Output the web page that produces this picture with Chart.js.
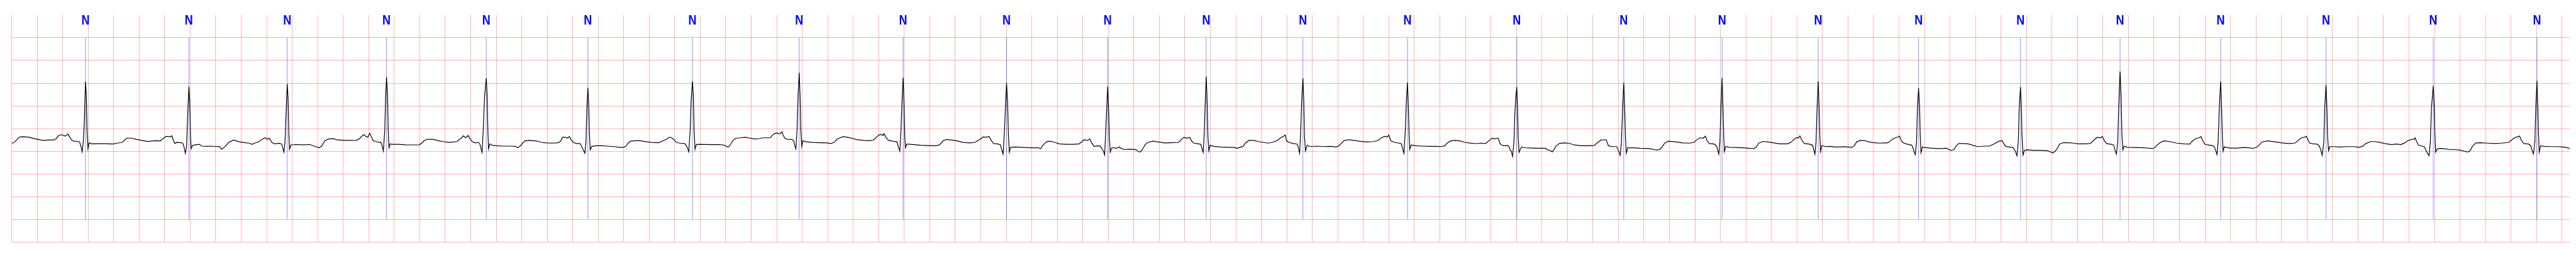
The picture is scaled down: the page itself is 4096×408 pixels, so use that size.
<!DOCTYPE html>
<html>
<head>
<meta charset="utf-8">
<script src="https://cdn.jsdelivr.net/npm/chart.js@4"></script>
<style>
  html, body { margin: 0; padding: 0; background: #fff; }
  #wrap { width: 4096px; height: 408px; position: relative; }
</style>
</head>
<body>
<div id="wrap"><canvas id="ecg"></canvas></div>
<script>
// ECG trace, [time (s), amplitude (mV)]
const ecg_samples = [
  [0.000,-0.323],[0.019,-0.313],[0.038,-0.255],[0.056,-0.197],[0.078,-0.182],[0.111,-0.187],[0.139,-0.192],[0.166,-0.217],[0.194,-0.232],[0.231,-0.255],
  [0.258,-0.263],[0.295,-0.253],[0.332,-0.253],[0.350,-0.222],[0.365,-0.167],[0.384,-0.136],[0.402,-0.146],[0.420,-0.167],[0.430,-0.154],[0.442,-0.121],
  [0.453,-0.179],[0.470,-0.255],[0.488,-0.280],[0.525,-0.285],[0.534,-0.306],[0.545,-0.407],[0.553,-0.515],[0.562,-0.293],[0.571,0.212],[0.579,1.033],
  [0.586,0.717],[0.591,-0.040],[0.599,-0.444],[0.608,-0.313],[0.626,-0.338],[0.682,-0.336],[0.737,-0.336],[0.792,-0.343],[0.829,-0.323],[0.866,-0.306],
  [0.884,-0.263],[0.902,-0.212],[0.939,-0.212],[0.976,-0.237],[1.013,-0.258],[1.068,-0.285],[1.123,-0.268],[1.169,-0.273],[1.178,-0.242],[1.197,-0.205],
  [1.212,-0.172],[1.243,-0.182],[1.257,-0.162],[1.267,-0.250],[1.280,-0.331],[1.293,-0.308],[1.335,-0.313],[1.344,-0.338],[1.353,-0.419],[1.362,-0.545],
  [1.372,-0.394],[1.381,0.338],[1.390,0.924],[1.397,0.591],[1.403,-0.167],[1.408,-0.444],[1.418,-0.374],[1.436,-0.364],[1.473,-0.348],[1.491,-0.389],
  [1.528,-0.394],[1.565,-0.389],[1.602,-0.399],[1.629,-0.394],[1.648,-0.457],[1.675,-0.394],[1.703,-0.306],[1.740,-0.255],[1.786,-0.293],[1.822,-0.311],
  [1.859,-0.323],[1.887,-0.348],[1.905,-0.323],[1.942,-0.288],[1.960,-0.242],[1.988,-0.205],[2.006,-0.237],[2.021,-0.212],[2.040,-0.306],[2.062,-0.338],
  [2.098,-0.326],[2.117,-0.343],[2.126,-0.419],[2.135,-0.520],[2.144,-0.293],[2.154,0.465],[2.161,0.982],[2.168,0.667],[2.174,-0.141],[2.179,-0.457],
  [2.190,-0.361],[2.227,-0.354],[2.282,-0.359],[2.338,-0.354],[2.374,-0.389],[2.411,-0.424],[2.430,-0.389],[2.457,-0.268],[2.485,-0.232],[2.522,-0.225],
  [2.558,-0.253],[2.595,-0.258],[2.650,-0.263],[2.706,-0.258],[2.733,-0.212],[2.752,-0.154],[2.764,-0.136],[2.779,-0.179],
  [2.793,-0.192],[2.808,-0.106],[2.821,-0.179],[2.834,-0.268],[2.857,-0.288],[2.885,-0.306],[2.894,-0.298],[2.904,-0.369],[2.915,-0.495],[2.926,-0.040],
  [2.933,0.717],[2.940,1.134],[2.948,0.717],[2.953,-0.040],[2.959,-0.424],[2.968,-0.338],[2.986,-0.348],[3.032,-0.348],[3.087,-0.359],[3.143,-0.361],
  [3.198,-0.359],[3.216,-0.323],[3.235,-0.268],[3.262,-0.237],[3.308,-0.242],[3.345,-0.268],[3.382,-0.288],[3.428,-0.306],[3.465,-0.298],[3.492,-0.288],
  [3.511,-0.242],[3.529,-0.205],[3.542,-0.162],[3.562,-0.205],[3.580,-0.154],[3.593,-0.217],[3.612,-0.293],[3.639,-0.318],[3.661,-0.306],[3.672,-0.343],
  [3.682,-0.457],[3.689,-0.525],[3.698,-0.040],[3.709,0.717],[3.722,1.109],[3.729,0.717],[3.735,-0.091],[3.740,-0.449],[3.750,-0.338],[3.768,-0.369],
  [3.805,-0.381],[3.860,-0.389],[3.915,-0.389],[3.952,-0.394],[3.967,-0.424],[3.989,-0.386],[4.007,-0.323],[4.026,-0.273],[4.062,-0.263],[4.118,-0.275],
  [4.154,-0.306],[4.191,-0.318],[4.246,-0.323],[4.283,-0.313],[4.302,-0.293],[4.320,-0.197],[4.342,-0.192],[4.357,-0.212],[4.375,-0.179],[4.386,-0.242],
  [4.403,-0.306],[4.430,-0.331],[4.458,-0.331],[4.471,-0.407],[4.482,-0.470],[4.495,-0.545],[4.504,-0.293],[4.511,0.465],[4.519,0.899],[4.526,0.465],
  [4.532,-0.167],[4.537,-0.470],[4.550,-0.394],[4.587,-0.381],[4.633,-0.381],[4.670,-0.389],[4.725,-0.399],[4.762,-0.414],[4.798,-0.414],[4.817,-0.394],
  [4.835,-0.318],[4.853,-0.280],[4.890,-0.268],[4.927,-0.268],[4.982,-0.293],[5.019,-0.306],[5.074,-0.313],[5.111,-0.268],[5.139,-0.230],[5.157,-0.192],
  [5.175,-0.205],[5.194,-0.242],[5.212,-0.306],[5.240,-0.323],[5.277,-0.331],[5.295,-0.394],[5.310,-0.515],[5.321,-0.040],[5.328,0.591],[5.339,1.040],
  [5.346,0.717],[5.352,-0.040],[5.359,-0.457],[5.369,-0.356],[5.387,-0.348],[5.442,-0.353],[5.497,-0.356],[5.553,-0.354],[5.589,-0.369],[5.617,-0.414],
  [5.635,-0.364],[5.654,-0.268],
  [5.678,-0.215],[5.714,-0.205],[5.751,-0.192],[5.788,-0.212],[5.825,-0.230],[5.861,-0.222],[5.898,-0.205],[5.950,-0.205],[5.963,-0.154],[5.981,-0.116],
  [6.000,-0.096],[6.018,-0.116],[6.027,-0.111],[6.040,-0.073],[6.051,-0.154],[6.064,-0.217],[6.082,-0.237],[6.119,-0.242],[6.134,-0.280],[6.141,-0.369],
  [6.150,-0.449],[6.159,-0.040],[6.167,0.717],[6.176,1.230],[6.183,0.717],[6.189,-0.040],[6.196,-0.394],[6.205,-0.268],[6.229,-0.293],[6.285,-0.306],
  [6.340,-0.313],[6.395,-0.318],[6.423,-0.331],[6.450,-0.306],[6.472,-0.237],[6.496,-0.205],[6.520,-0.179],[6.560,-0.197],[6.597,-0.222],[6.634,-0.247],
  [6.680,-0.263],[6.726,-0.268],[6.763,-0.250],[6.781,-0.192],[6.803,-0.141],[6.818,-0.131],[6.833,-0.154],[6.842,-0.111],[6.855,-0.192],[6.877,-0.263],
  [6.910,-0.280],[6.943,-0.293],[6.952,-0.394],[6.965,-0.500],[6.974,-0.040],[6.982,0.591],[6.991,1.121],[6.998,0.591],[7.004,-0.167],[7.009,-0.424],
  [7.020,-0.343],[7.076,-0.356],[7.131,-0.369],[7.186,-0.376],[7.241,-0.381],[7.269,-0.369],[7.287,-0.331],[7.305,-0.268],[7.333,-0.242],[7.370,-0.255],
  [7.416,-0.273],[7.462,-0.306],[7.517,-0.318],[7.554,-0.306],[7.591,-0.242],[7.618,-0.187],[7.646,-0.192],[7.664,-0.172],[7.683,-0.268],[7.701,-0.331],
  [7.729,-0.338],[7.753,-0.356],[7.762,-0.444],[7.775,-0.566],[7.786,-0.040],[7.793,0.465],[7.802,1.008],[7.810,0.591],[7.817,-0.167],[7.824,-0.520],
  [7.833,-0.414],[7.867,-0.407],[7.922,-0.414],[7.995,-0.424],[8.051,-0.424],[8.069,-0.444],[8.087,-0.369],[8.115,-0.293],[8.143,-0.280],[8.179,-0.306],
  [8.216,-0.338],[8.271,-0.348],[8.327,-0.348],[8.372,-0.338],[8.391,-0.295],[8.409,-0.250],[8.437,-0.263],[8.455,-0.232],[8.470,-0.318],[8.488,-0.394],
  [8.520,-0.381],[8.538,-0.394],[8.562,-0.500],
  [8.571,-0.583],[8.580,-0.040],[8.588,0.465],[8.595,0.924],[8.602,0.465],[8.608,-0.167],[8.615,-0.520],[8.626,-0.432],[8.645,-0.424],[8.663,-0.439],
  [8.687,-0.407],[8.700,-0.439],[8.727,-0.465],[8.764,-0.457],[8.801,-0.460],[8.819,-0.470],[8.834,-0.508],[8.847,-0.520],[8.860,-0.490],[8.875,-0.424],
  [8.889,-0.356],[8.911,-0.306],[8.948,-0.280],[8.985,-0.293],[9.040,-0.318],[9.095,-0.313],[9.151,-0.306],[9.169,-0.255],[9.191,-0.197],[9.215,-0.212],
  [9.239,-0.197],[9.252,-0.268],[9.270,-0.323],[9.307,-0.338],[9.325,-0.348],[9.335,-0.444],[9.344,-0.525],[9.353,-0.040],[9.360,0.591],[9.368,1.141],
  [9.375,0.591],[9.381,-0.167],[9.388,-0.495],[9.399,-0.369],[9.426,-0.394],[9.482,-0.407],[9.537,-0.414],[9.592,-0.419],[9.610,-0.439],[9.629,-0.419],
  [9.656,-0.394],[9.675,-0.323],[9.702,-0.263],[9.739,-0.263],[9.776,-0.288],[9.813,-0.306],[9.850,-0.323],[9.886,-0.306],[9.923,-0.268],[9.951,-0.205],
  [9.969,-0.179],[9.988,-0.141],[9.997,-0.268],[10.015,-0.306],[10.052,-0.331],[10.080,-0.343],[10.089,-0.407],[10.100,-0.545],[10.109,-0.040],[10.116,0.591],
  [10.126,1.109],[10.133,0.591],[10.138,-0.167],[10.146,-0.495],[10.159,-0.369],[10.181,-0.399],[10.236,-0.389],[10.291,-0.399],[10.346,-0.394],[10.383,-0.407],
  [10.402,-0.394],[10.420,-0.348],[10.447,-0.268],[10.484,-0.247],[10.530,-0.263],[10.567,-0.280],[10.622,-0.298],[10.677,-0.288],[10.714,-0.268],[10.742,-0.205],
  [10.769,-0.172],[10.788,-0.187],[10.799,-0.146],[10.815,-0.268],[10.843,-0.306],[10.880,-0.323],[10.898,-0.338],[10.907,-0.432],[10.918,-0.545],[10.929,-0.040],
  [10.937,0.591],[10.946,1.013],[10.953,0.465],[10.959,-0.167],[10.964,-0.457],[10.975,-0.364],[11.009,-0.381],[11.064,-0.389],[11.119,-0.394],[11.174,-0.394],
  [11.211,-0.399],[11.239,-0.381],[11.257,-0.323],[11.285,-0.273],[11.321,-0.263],[11.358,-0.273],[11.395,-0.306],[11.446,-0.325],
  [11.483,-0.333],[11.520,-0.323],[11.557,-0.331],[11.571,-0.306],[11.590,-0.255],[11.612,-0.212],[11.630,-0.230],[11.649,-0.212],[11.658,-0.217],[11.671,-0.331],
  [11.685,-0.364],[11.704,-0.381],[11.731,-0.374],[11.741,-0.394],[11.750,-0.470],[11.759,-0.495],[11.770,-0.616],[11.781,-0.293],[11.788,0.338],[11.796,0.717],
  [11.803,0.914],[11.809,0.465],[11.814,-0.167],[11.821,-0.525],[11.833,-0.444],[11.842,-0.407],[11.869,-0.424],[11.925,-0.432],[11.980,-0.437],[12.026,-0.437],
  [12.044,-0.470],[12.063,-0.482],[12.081,-0.515],[12.094,-0.470],[12.108,-0.394],[12.136,-0.331],[12.173,-0.318],[12.210,-0.323],[12.256,-0.364],[12.311,-0.381],
  [12.366,-0.381],[12.412,-0.374],[12.430,-0.323],[12.449,-0.288],[12.462,-0.255],[12.486,-0.250],[12.504,-0.247],[12.522,-0.381],[12.550,-0.399],[12.587,-0.399],
  [12.601,-0.495],[12.614,-0.591],[12.624,-0.293],[12.633,0.465],[12.642,1.008],[12.649,0.465],[12.655,-0.167],[12.662,-0.545],[12.673,-0.424],[12.716,-0.424],
  [12.771,-0.437],[12.844,-0.444],[12.881,-0.465],[12.900,-0.477],[12.927,-0.457],[12.946,-0.394],[12.964,-0.318],[12.992,-0.280],[13.047,-0.293],[13.102,-0.318],
  [13.157,-0.323],[13.194,-0.306],[13.212,-0.255],[13.240,-0.205],[13.267,-0.212],[13.282,-0.167],[13.295,-0.268],[13.313,-0.331],[13.350,-0.343],[13.369,-0.381],
  [13.387,-0.566],[13.396,-0.293],[13.404,0.465],[13.413,1.116],[13.420,0.465],[13.426,-0.167],[13.431,-0.508],[13.442,-0.394],[13.470,-0.414],[13.525,-0.419],
  [13.580,-0.424],[13.635,-0.439],[13.663,-0.444],[13.681,-0.407],[13.700,-0.323],[13.736,-0.285],[13.773,-0.298],[13.819,-0.318],[13.865,-0.338],[13.930,-0.338],
  [13.957,-0.293],[13.985,-0.222],[14.003,-0.197],[14.012,-0.212],[14.023,-0.162],[14.040,-0.268],[14.058,-0.331],[14.095,-0.343],[14.123,-0.369],[14.132,-0.470],
  [14.141,-0.566],[14.150,-0.293],[14.158,0.465],[14.167,1.040],[14.174,0.465],[14.180,-0.167],[14.185,-0.508],[14.196,-0.374],[14.224,-0.399],[14.261,-0.394],
  [14.298,-0.407],[14.331,-0.407],
  [14.367,-0.402],[14.404,-0.407],[14.432,-0.414],[14.450,-0.381],[14.469,-0.293],[14.496,-0.263],[14.533,-0.268],[14.561,-0.293],[14.588,-0.306],[14.625,-0.318],
  [14.653,-0.323],[14.680,-0.318],[14.708,-0.318],[14.726,-0.293],[14.745,-0.242],[14.772,-0.205],[14.791,-0.187],[14.805,-0.167],[14.814,-0.242],[14.827,-0.306],
  [14.855,-0.338],[14.882,-0.356],[14.901,-0.369],[14.912,-0.444],[14.919,-0.520],[14.928,-0.576],[14.938,-0.293],[14.945,0.465],[14.954,0.889],[14.962,0.465],
  [14.967,-0.167],[14.973,-0.533],[14.984,-0.407],[15.002,-0.419],[15.048,-0.432],[15.103,-0.444],[15.140,-0.444],[15.168,-0.432],[15.186,-0.457],[15.210,-0.482],
  [15.232,-0.465],[15.250,-0.381],[15.269,-0.331],[15.306,-0.331],[15.342,-0.338],[15.379,-0.369],[15.416,-0.399],[15.471,-0.389],[15.508,-0.389],[15.545,-0.343],
  [15.582,-0.280],[15.609,-0.268],[15.618,-0.318],[15.637,-0.394],[15.664,-0.407],[15.692,-0.419],[15.701,-0.444],[15.714,-0.508],[15.725,-0.601],[15.736,-0.293],
  [15.743,0.465],[15.753,0.914],[15.760,0.465],[15.765,-0.167],[15.773,-0.583],[15.784,-0.482],[15.802,-0.470],[15.857,-0.482],[15.913,-0.482],[15.968,-0.490],
  [15.986,-0.515],[16.005,-0.540],[16.023,-0.508],[16.041,-0.444],[16.060,-0.343],[16.087,-0.313],[16.133,-0.313],[16.170,-0.323],[16.207,-0.338],[16.262,-0.338],
  [16.299,-0.331],[16.317,-0.293],[16.336,-0.237],[16.354,-0.197],[16.382,-0.205],[16.395,-0.172],[16.409,-0.263],[16.428,-0.331],[16.465,-0.348],[16.483,-0.364],
  [16.492,-0.457],[16.505,-0.566],[16.516,-0.293],[16.523,0.465],[16.534,1.255],[16.542,0.717],[16.549,-0.167],[16.556,-0.470],[16.566,-0.389],[16.593,-0.414],
  [16.648,-0.419],[16.722,-0.424],[16.786,-0.444],[16.805,-0.424],[16.823,-0.369],[16.851,-0.306],[16.878,-0.273],[16.924,-0.288],[16.980,-0.323],[17.035,-0.338],
  [17.081,-0.343],[17.099,-0.280],[17.127,-0.222],[17.154,-0.205],[17.169,-0.179],[17.182,-0.268],[17.200,-0.348],[17.215,-0.360],
  [17.242,-0.369],[17.261,-0.381],[17.274,-0.407],[17.285,-0.495],[17.294,-0.576],[17.303,-0.293],[17.312,0.465],[17.323,1.040],[17.330,0.465],[17.336,-0.167],
  [17.342,-0.500],[17.351,-0.407],[17.371,-0.419],[17.398,-0.432],[17.453,-0.432],[17.508,-0.419],[17.545,-0.424],[17.573,-0.439],[17.591,-0.424],[17.609,-0.407],
  [17.628,-0.356],[17.646,-0.298],[17.692,-0.273],[17.747,-0.293],[17.802,-0.318],[17.857,-0.331],[17.903,-0.323],[17.921,-0.288],[17.939,-0.242],[17.958,-0.205],
  [17.976,-0.197],[17.995,-0.172],[18.004,-0.230],[18.022,-0.323],[18.049,-0.338],[18.077,-0.343],[18.095,-0.381],[18.108,-0.470],[18.119,-0.591],[18.132,-0.293],
  [18.139,0.465],[18.149,0.965],[18.156,0.465],[18.161,-0.167],[18.169,-0.490],[18.178,-0.399],[18.205,-0.399],[18.260,-0.407],[18.315,-0.399],[18.370,-0.399],
  [18.389,-0.407],[18.407,-0.414],[18.435,-0.394],[18.462,-0.331],[18.499,-0.288],[18.536,-0.288],[18.572,-0.308],[18.609,-0.331],[18.664,-0.356],[18.701,-0.343],
  [18.737,-0.356],[18.765,-0.318],[18.792,-0.268],[18.820,-0.242],[18.838,-0.237],[18.847,-0.205],[18.860,-0.293],[18.875,-0.369],[18.902,-0.389],[18.921,-0.407],
  [18.939,-0.520],[18.957,-0.601],[18.967,-0.293],[18.976,0.465],[18.990,0.939],[18.998,0.465],[19.003,-0.167],[19.009,-0.520],[19.022,-0.449],[19.049,-0.439],
  [19.086,-0.449],[19.122,-0.465],[19.159,-0.465],[19.196,-0.475],[19.233,-0.500],[19.260,-0.520],[19.278,-0.495],[19.297,-0.394],[19.324,-0.318],[19.361,-0.313],
  [19.416,-0.323],[19.471,-0.331],[19.526,-0.323],[19.581,-0.306],[19.599,-0.268],[19.627,-0.205],[19.654,-0.179],[19.667,-0.167],[19.682,-0.268],[19.700,-0.331],
  [19.737,-0.343],[19.755,-0.381],[19.764,-0.470],[19.775,-0.561],[19.787,-0.293],[19.794,0.465],[19.803,1.050],[19.810,0.465],[19.816,-0.167],[19.821,-0.520],
  [19.832,-0.381],[19.856,-0.394],[19.911,-0.399],[19.966,-0.399],[20.003,-0.407],[20.030,-0.414],[20.061,-0.444]
]

// beat annotations (time of each marked R peak, seconds)
const beat_times = [0.579, 1.390, 2.161, 2.940, 3.722, 4.519, 5.339, 6.176, 6.991, 7.802,
  8.595, 9.368, 10.126, 10.946, 11.803, 12.642, 13.413, 14.167, 14.954, 15.753,
  16.534, 17.323, 18.149, 18.990, 19.803]
const beat_labels = beat_times.map(() => 'N')

// axis ranges (s, mV) and grid steps
const x_range = [0, 20.06]
const y_range = [-2.5, 2.5]
const x_step = 0.2
const y_step = 0.5
const marker_span = [-2, 2]

const grid_color = 'rgba(255,0,0,0.3)'

// vertical marker lines: one segment per beat, broken by nulls
let marker_points = []
beat_times.forEach(t => {
    marker_points.push({x: t, y: marker_span[0]})
    marker_points.push({x: t, y: marker_span[1]})
    marker_points.push({x: t, y: null})
})

const beat_label_plugin = {
    id: 'beat_labels',
    afterDatasetsDraw(chart) {
        const {ctx, scales: {x, y}} = chart
        const base = y.getPixelForValue(2.29)
        ctx.save()
        ctx.fillStyle = '#0000ff'
        ctx.font = 'bold 22px "Liberation Sans", Arial, sans-serif'
        ctx.textAlign = 'center'
        ctx.textBaseline = 'alphabetic'
        beat_times.forEach((t, i) => {
            ctx.save()
            ctx.translate(x.getPixelForValue(t), base)
            ctx.scale(0.82, 1)
            ctx.fillText(beat_labels[i], 0, 0)
            ctx.restore()
        })
        ctx.restore()
    }
}

new Chart(document.getElementById('ecg'), {
    type: 'line',
    data: {
        datasets: [{
            label: 'ECG',
            data: ecg_samples.map(p => ({x: p[0], y: p[1]})),
            borderColor: '#000000',
            borderWidth: 1.2,
            pointRadius: 0,
            tension: 0,
            fill: false,
            order: 0
        }, {
            label: 'Beats',
            data: marker_points,
            borderColor: 'rgba(0,0,255,0.55)',
            borderWidth: 0.8,
            pointRadius: 0,
            spanGaps: false,
            fill: false,
            order: 1
        }]
    },
    options: {
        animation: false,
        responsive: true,
        maintainAspectRatio: false,
        layout: { padding: { left: 18.5, right: 10, top: 24, bottom: 24 } },
        plugins: { legend: { display: false }, tooltip: { enabled: false } },
        scales: {
            x: {
                type: 'linear',
                bounds: 'data',
                min: x_range[0],
                max: x_range[1],
                ticks: { display: false, stepSize: x_step, includeBounds: false },
                grid: { color: grid_color, lineWidth: 1, drawTicks: false },
                border: { display: false },
                afterFit: s => { s.height = 0 }
            },
            y: {
                type: 'linear',
                min: y_range[0],
                max: y_range[1],
                ticks: { display: false, stepSize: y_step },
                grid: {
                    color: c => (c.tick && c.tick.value === y_range[1]) ? 'rgba(0,0,0,0)' : grid_color,
                    lineWidth: 1,
                    drawTicks: false
                },
                border: { display: false },
                afterFit: s => { s.width = 0 }
            }
        }
    },
    plugins: [beat_label_plugin]
})
</script>
</body>
</html>
